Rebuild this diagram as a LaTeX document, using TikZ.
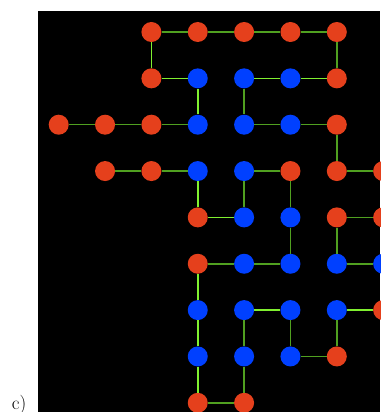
\documentclass[tikz,border=0pt]{standalone}
\usepackage{amsmath}
\usetikzlibrary{positioning}

\definecolor{sitered}{RGB}{229,64,28}
\definecolor{siteblue}{RGB}{0,64,255}
\definecolor{bondlight}{RGB}{128,240,48}
\definecolor{bonddark}{RGB}{80,160,32}

\tikzset{
  site/.style={circle, inner sep=0pt, minimum size=20pt},
  redsite/.style={site, fill=sitered},
  bluesite/.style={site, fill=siteblue},
  bond/.style={draw=bonddark, line width=1.6pt},
  lightbond/.style={draw=bondlight, line width=1.6pt}
}

\begin{document}
\begin{tikzpicture}[x=46.35pt, y=46.35pt]
  \useasboundingbox (-58.7pt, 32pt) rectangle (321.3pt, -380pt);
  \fill[black] (-20.7pt, 21pt) rectangle (321.3pt, -380pt);
  \node [anchor=base west, inner sep=0pt, font=\fontsize{19}{22}\selectfont] (lab) at (-47pt, -377pt) {c)};

  % row 0
  \node [redsite] (r0c2) at (2, 0) {};
  \node [redsite] (r0c3) at (3, 0) {};
  \node [redsite] (r0c4) at (4, 0) {};
  \node [redsite] (r0c5) at (5, 0) {};
  \node [redsite] (r0c6) at (6, 0) {};

  % row 1
  \node [redsite]  (r1c2) at (2, -1) {};
  \node [bluesite] (r1c3) at (3, -1) {};
  \node [bluesite] (r1c4) at (4, -1) {};
  \node [bluesite] (r1c5) at (5, -1) {};
  \node [redsite]  (r1c6) at (6, -1) {};

  % row 2
  \node [redsite]  (r2c0) at (0, -2) {};
  \node [redsite]  (r2c1) at (1, -2) {};
  \node [redsite]  (r2c2) at (2, -2) {};
  \node [bluesite] (r2c3) at (3, -2) {};
  \node [bluesite] (r2c4) at (4, -2) {};
  \node [bluesite] (r2c5) at (5, -2) {};
  \node [redsite]  (r2c6) at (6, -2) {};

  % row 3
  \node [redsite]  (r3c1) at (1, -3) {};
  \node [redsite]  (r3c2) at (2, -3) {};
  \node [bluesite] (r3c3) at (3, -3) {};
  \node [bluesite] (r3c4) at (4, -3) {};
  \node [redsite]  (r3c5) at (5, -3) {};
  \node [redsite]  (r3c6) at (6, -3) {};
  \node [redsite]  (r3c7) at (7, -3) {};

  % row 4
  \node [redsite]  (r4c3) at (3, -4) {};
  \node [bluesite] (r4c4) at (4, -4) {};
  \node [bluesite] (r4c5) at (5, -4) {};
  \node [redsite]  (r4c6) at (6, -4) {};
  \node [redsite]  (r4c7) at (7, -4) {};

  % row 5
  \node [redsite]  (r5c3) at (3, -5) {};
  \node [bluesite] (r5c4) at (4, -5) {};
  \node [bluesite] (r5c5) at (5, -5) {};
  \node [bluesite] (r5c6) at (6, -5) {};
  \node [bluesite] (r5c7) at (7, -5) {};

  % row 6
  \node [bluesite] (r6c3) at (3, -6) {};
  \node [bluesite] (r6c4) at (4, -6) {};
  \node [bluesite] (r6c5) at (5, -6) {};
  \node [bluesite] (r6c6) at (6, -6) {};
  \node [redsite]  (r6c7) at (7, -6) {};

  % row 7
  \node [bluesite] (r7c3) at (3, -7) {};
  \node [bluesite] (r7c4) at (4, -7) {};
  \node [bluesite] (r7c5) at (5, -7) {};
  \node [redsite]  (r7c6) at (6, -7) {};

  % row 8
  \node [redsite] (r8c3) at (3, -8) {};
  \node [redsite] (r8c4) at (4, -8) {};

  % bonds
  \draw[bond] (r0c2) -- (r0c3);
  \draw[bond] (r0c3) -- (r0c4);
  \draw[bond] (r0c4) -- (r0c5);
  \draw[bond] (r0c5) -- (r0c6);
  \draw[lightbond] (r0c2) -- (r1c2);
  \draw[bond] (r0c6) -- (r1c6);

  \draw[lightbond] (r1c2) -- (r1c3);
  \draw[lightbond] (r1c4) -- (r1c5);
  \draw[lightbond] (r1c5) -- (r1c6);
  \draw[lightbond] (r1c3) -- (r2c3);
  \draw[bond] (r1c4) -- (r2c4);

  \draw[bond] (r2c0) -- (r2c1);
  \draw[bond] (r2c1) -- (r2c2);
  \draw[bond] (r2c2) -- (r2c3);
  \draw[bond] (r2c4) -- (r2c5);
  \draw[bond] (r2c5) -- (r2c6);
  \draw[bond] (r2c6) -- (r3c6);

  \draw[bond] (r3c1) -- (r3c2);
  \draw[bond] (r3c2) -- (r3c3);
  \draw[bond] (r3c4) -- (r3c5);
  \draw[bond] (r3c6) -- (r3c7);
  \draw[lightbond] (r3c3) -- (r4c3);
  \draw[bond] (r3c4) -- (r4c4);
  \draw[bond] (r3c5) -- (r4c5);

  \draw[lightbond] (r4c3) -- (r4c4);
  \draw[bond] (r4c6) -- (r4c7);
  \draw[bond] (r4c5) -- (r5c5);
  \draw[bond] (r4c6) -- (r5c6);

  \draw[bond] (r5c3) -- (r5c4);
  \draw[bond] (r5c4) -- (r5c5);
  \draw[bond] (r5c6) -- (r5c7);
  \draw[lightbond] (r5c3) -- (r6c3);

  \draw[lightbond] (r6c4) -- (r6c5);
  \draw[lightbond] (r6c6) -- (r6c7);
  \draw[lightbond] (r6c3) -- (r7c3);
  \draw[bond] (r6c4) -- (r7c4);
  \draw[bond] (r6c5) -- (r7c5);
  \draw[bond] (r6c6) -- (r7c6);

  \draw[bond] (r7c5) -- (r7c6);
  \draw[lightbond] (r7c3) -- (r8c3);
  \draw[bond] (r7c4) -- (r8c4);
  \draw[bond] (r8c3) -- (r8c4);
\end{tikzpicture}
\end{document}
